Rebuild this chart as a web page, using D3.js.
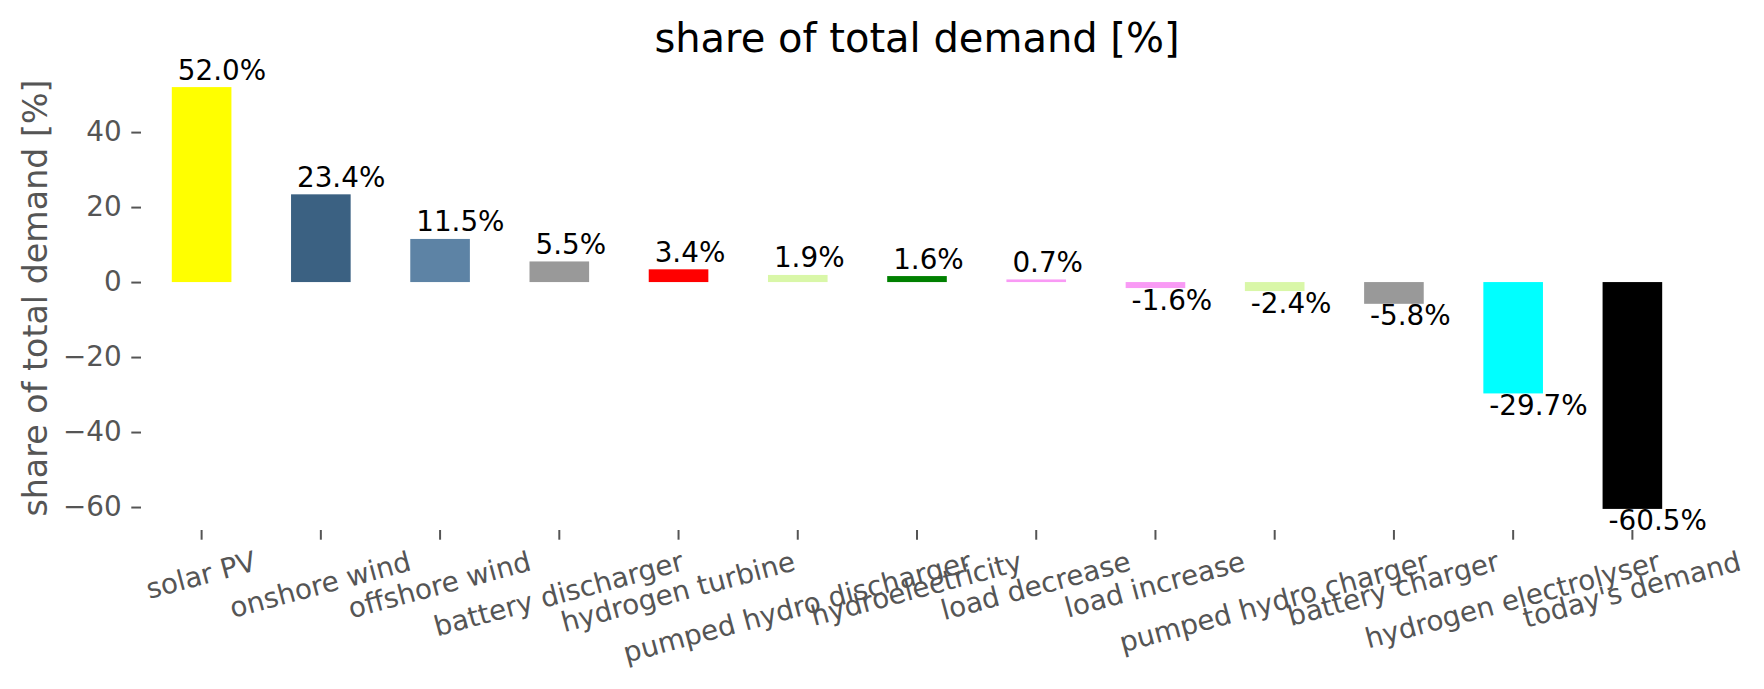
<!DOCTYPE html>
<html>
<head>
<meta charset="utf-8">
<script src="https://cdn.jsdelivr.net/npm/d3@7"></script>
<style>
  body { margin: 0; background: #fff; }
  text { font-family: "DejaVu Sans", sans-serif; }
</style>
</head>
<body>
<div id="chart"></div>
<script>
// data
let categories = ["solar PV", "onshore wind", "offshore wind", "battery discharger",
  "hydrogen turbine", "pumped hydro discharger", "hydroelectricity", "load decrease",
  "load increase", "pumped hydro charger", "battery charger", "hydrogen electrolyser",
  "today's demand"];
let shares = [52.0, 23.4, 11.5, 5.5, 3.4, 1.9, 1.6, 0.7, -1.6, -2.4, -5.8, -29.7, -60.5];
let barColors = ["#ffff00", "#3b6182", "#5d83a5", "#999999", "#ff0000", "#d9f7a8",
  "#008000", "#f99af5", "#f99af5", "#d9f7a8", "#999999", "#00ffff", "#000000"];
let yTicks = [-60, -40, -20, 0, 20, 40];

// figure size
let svgWidth = 1764;
let svgHeight = 689;

// axes box
let margin = { top: 66, left: 142, right: 72, bottom: 159 };
let width = svgWidth - margin.left - margin.right;
let height = svgHeight - margin.top - margin.bottom;

let svg = d3.select("#chart")
  .append("svg")
  .attr("width", svgWidth)
  .attr("height", svgHeight);

svg.append("rect")
  .attr("width", svgWidth)
  .attr("height", svgHeight)
  .attr("fill", "#fff");

let chartGroup = svg.append("g")
  .attr("transform", `translate(${margin.left}, ${margin.top})`);

// scales (matplotlib style 5% margins on y)
let yMin = d3.min(shares), yMax = d3.max(shares);
let pad = (yMax - yMin) * 0.05;

let xScale = d3.scaleBand()
  .domain(categories)
  .range([0, width])
  .paddingInner(0.5)
  .paddingOuter(0.25);

let yScale = d3.scaleLinear()
  .domain([yMin - pad, yMax + pad])
  .range([height, 0]);

let tickLen = 9.7;
let tickColor = "#555555";
let fontTick = 27.8;

// y axis
let leftAxis = d3.axisLeft(yScale)
  .tickValues(yTicks)
  .tickSize(tickLen)
  .tickPadding(tickLen)
  .tickFormat(d => d < 0 ? "\u2212" + Math.abs(d) : d);

let yAxis = chartGroup.append("g")
  .attr("transform", "translate(-1, 0)")
  .call(leftAxis);
yAxis.select(".domain").remove();
yAxis.selectAll(".tick line").attr("stroke", tickColor).attr("stroke-width", 2);
yAxis.selectAll(".tick text")
  .attr("fill", tickColor)
  .attr("font-size", fontTick)
  .attr("dy", "0.32em");

// x axis (labels drawn by hand for matplotlib-like rotation)
let bottomAxis = d3.axisBottom(xScale)
  .tickSize(tickLen)
  .tickFormat("");

let xAxis = chartGroup.append("g")
  .attr("transform", `translate(0, ${height})`)
  .call(bottomAxis);
xAxis.select(".domain").remove();
xAxis.selectAll(".tick line").attr("stroke", tickColor).attr("stroke-width", 2);

let angle = 15 * Math.PI / 180;
let labelTop = height + tickLen * 2;
categories.forEach(function(c) {
  let t = chartGroup.append("text")
    .attr("font-size", fontTick)
    .attr("fill", tickColor)
    .attr("text-anchor", "middle")
    .attr("dy", "0.262em")
    .text(c);
  let w = t.node().getComputedTextLength();
  let h = fontTick;
  let H = w * Math.sin(angle) + h * Math.cos(angle);
  let cx = xScale(c) + xScale.bandwidth() / 2;
  let cy = labelTop + H / 2;
  t.attr("transform", `translate(${cx}, ${cy}) rotate(-15)`);
});

// bars
chartGroup.selectAll(".bar")
  .data(shares)
  .enter()
  .append("rect")
  .attr("class", "bar")
  .attr("x", (d, i) => xScale(categories[i]))
  .attr("width", xScale.bandwidth())
  .attr("y", d => yScale(Math.max(d, 0)))
  .attr("height", d => Math.abs(yScale(d) - yScale(0)))
  .attr("fill", (d, i) => barColors[i]);

// value labels
chartGroup.selectAll(".val")
  .data(shares)
  .enter()
  .append("text")
  .attr("class", "val")
  .attr("x", (d, i) => xScale(categories[i]) + xScale.bandwidth() * 0.1)
  .attr("y", d => d >= 0 ? yScale(d) - 7.5 : yScale(d) + 21.5)
  .attr("font-size", 27.8)
  .attr("fill", "#000")
  .text(d => d.toFixed(1) + "%");

// title
svg.append("text")
  .attr("x", margin.left + width / 2)
  .attr("y", 52)
  .attr("text-anchor", "middle")
  .attr("font-size", 40)
  .attr("fill", "#000")
  .text("share of total demand [%]");

// y label
svg.append("text")
  .attr("transform", `translate(47, ${margin.top + height / 2}) rotate(-90)`)
  .attr("text-anchor", "middle")
  .attr("font-size", 33.3)
  .attr("fill", tickColor)
  .text("share of total demand [%]");
</script>
</body>
</html>
